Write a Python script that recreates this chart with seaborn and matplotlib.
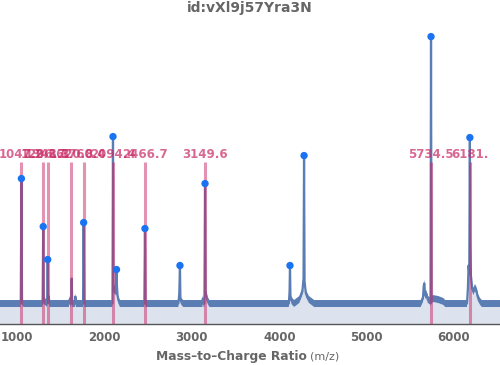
import matplotlib
matplotlib.use("Agg")
import matplotlib.pyplot as plt
from matplotlib.ticker import MultipleLocator
import seaborn as sns

# spectrum outline (m/z, intensity in arbitrary units)
spec_mz = [800, 1040, 1047, 1054, 1070,
           1290, 1297, 1303, 1342, 1348, 1354, 1360, 1368,
           1590, 1600, 1610, 1617, 1623, 1629, 1660, 1665, 1670,
           1753, 1760, 1767,
           2090, 2096, 2100, 2108, 2116, 2124, 2130, 2136, 2141, 2148, 2160, 2175,
           2455, 2462, 2468,
           2845, 2855, 2863, 2868, 2880, 2900,
           3120, 3125, 3132, 3143, 3150, 3156, 3165, 3180, 3200,
           4110, 4118, 4123, 4128, 4140, 4170, 4230, 4265, 4278, 4284, 4290, 4305, 4340, 4400,
           5620, 5645, 5655, 5662, 5670, 5685, 5700, 5725, 5732, 5738, 5744, 5760, 5820, 5880, 5900,
           6150, 6160, 6168, 6176, 6183, 6188, 6195, 6210, 6225, 6240, 6255, 6275, 6300, 6320, 6530]
spec_int = [0, 0, 125, 2, 0,
            0, 77, 3, 0, 44, 3, 7, 0,
            0, 4, 0, 0, 25, 0, 0, 7, 0,
            0, 81, 0,
            0, 167, 20, 15, 12, 16, 10, 34, 18, 8, 3, 0,
            0, 75, 0,
            0, 10, 38, 4, 2, 0,
            0, 5, 0, 0, 120, 12, 8, 3, 0,
            0, 12, 38, 8, 3, 0, 4, 12, 25, 148, 22, 10, 4, 0,
            0, 5, 18, 20, 8, 10, 4, 3, 0, 267, 3, 5, 4, 2, 0,
            0, 15, 38, 30, 166, 60, 28, 15, 12, 16, 14, 6, 2, 0, 0]

# detected peaks (blue dots)
peak_mz = [1047, 1297, 1348, 1760, 2096, 2136, 2462, 2863, 3150, 4123, 4284, 5738, 6183]
peak_int = [125, 77, 44, 81, 167, 34, 75, 38, 120, 38, 148, 267, 166]

# reference masses (pink lines + labels)
ref_mz = [1047.2, 1296.7, 1348.3, 1620.8, 1760.4, 2094.4, 2466.7, 3149.6, 5734.5, 6181.0]
ref_labels = ["1047.2", "1296.7", "1348.3", "1620.8", "1760.4", "2094.4",
              "2466.7", "3149.6", "5734.5", "6181."]

sns.set_style("white")
plt.rcParams["font.family"] = ["DejaVu Sans"]

blue = "#5a7db4"
pink = "#c82864"
grey = "#666666"
y_bot, y_top = -20.5, 285

fig = plt.figure(figsize=(5, 3.65), dpi=100)
ax = fig.add_axes([0, 0.1123, 1, 0.8367])

lo = [v - 3.5 for v in spec_int]
hi = [v + 3.5 for v in spec_int]
ax.fill_between(spec_mz, y_bot, lo, color="#dde3ee", lw=0, zorder=1)
ax.fill_between(spec_mz, lo, hi, color=blue, lw=0, zorder=2)
sns.lineplot(x=spec_mz, y=spec_int, estimator=None, sort=False, ax=ax,
             color=blue, lw=1.6, zorder=2)

ax.vlines(ref_mz, y_bot, 141.5, color=pink, alpha=0.5, lw=2.2, zorder=3)
for m, lab in zip(ref_mz, ref_labels):
    ax.text(m, 149.5, lab, ha="center", va="center", fontsize=8.5,
            fontweight="bold", color=pink, alpha=0.7, zorder=5)

sns.scatterplot(x=peak_mz, y=peak_int, ax=ax, color="#1a73f0", s=28,
                edgecolor="none", zorder=4)

ax.set_xlim(802, 6528)
ax.set_ylim(y_bot, y_top)
ax.set_yticks([])
ax.xaxis.set_major_locator(MultipleLocator(1000))
ax.xaxis.set_minor_locator(MultipleLocator(200))
ax.tick_params(axis="x", which="both", direction="in", length=3, width=1,
               color="#555555", pad=5, bottom=True)
ax.tick_params(axis="x", which="major", labelsize=8.5, labelcolor=grey)
for t in ax.get_xticklabels():
    t.set_fontweight("bold")
for s in ["left", "top", "right"]:
    ax.spines[s].set_visible(False)
ax.spines["bottom"].set_color("#555555")
ax.spines["bottom"].set_linewidth(1)
ax.set_xlabel("")
ax.set_ylabel("")

fig.text(0.5, 0.978, "id:vXl9j57Yra3N", ha="center", va="center",
         fontsize=10, fontweight="bold", color=grey)
fig.text(0.614, 0.022, "Mass\u2013to\u2013Charge Ratio", ha="right", va="center",
         fontsize=8.8, fontweight="bold", color=grey)
fig.text(0.62, 0.022, "(m/z)", ha="left", va="center", fontsize=8, color=grey)

fig.savefig("out.png", dpi=100)
